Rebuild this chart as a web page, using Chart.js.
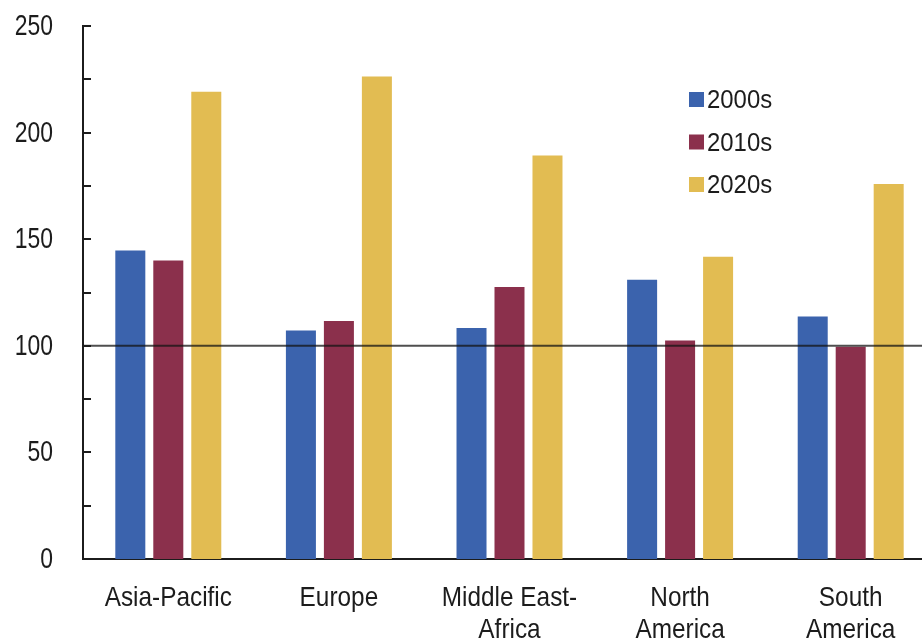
<!DOCTYPE html>
<html>
<head>
<meta charset="utf-8">
<script src="https://cdn.jsdelivr.net/npm/chart.js@4/dist/chart.umd.min.js"></script>
<style>
  html, body { margin: 0; padding: 0; background: #fff; overflow: hidden; }
  #wrap { width: 922px; height: 640px; overflow: hidden; }
</style>
</head>
<body>
<div id="wrap"><canvas id="chart" width="936" height="640"></canvas></div>
<script>
const regions = ['Asia-Pacific', 'Europe', ['Middle East-', 'Africa'], ['North', 'America'], ['South', 'America']];
const decades = ['2000s', '2010s', '2020s'];
const values2000s = [144.7, 107.2, 108.3, 131.0, 113.8];
const values2010s = [140.0, 111.6, 127.6, 102.5, 99.5];
const values2020s = [219.2, 226.3, 189.3, 141.8, 175.9];
const colors = ['#3b63ad', '#8b304c', '#e2bc52'];

const baseline = 100;
const sans = '"Liberation Sans", Arial, sans-serif';
const ink = '#1c1c1c';

// condensed text: squeeze horizontally around the anchor point
function squeezed(ctx, text, x, y, sx, align) {
  ctx.save();
  ctx.translate(x, y);
  ctx.scale(sx, 1);
  ctx.textAlign = align;
  ctx.fillText(text, 0, 0);
  ctx.restore();
}

// axis labels drawn narrow, like the printed original
const narrowLabels = {
  id: 'narrowLabels',
  afterDraw(chart) {
    const { ctx, scales: { x, y } } = chart;
    ctx.save();
    ctx.fillStyle = ink;
    ctx.textBaseline = 'middle';
    ctx.font = '29px ' + sans;
    y.ticks.forEach(t => {
      squeezed(ctx, String(t.value), y.left + 53, y.getPixelForValue(t.value) + 1, 0.79, 'right');
    });
    ctx.textBaseline = 'alphabetic';
    ctx.font = '28px ' + sans;
    chart.data.labels.forEach((lab, i) => {
      const lines = Array.isArray(lab) ? lab : [lab];
      const px = x.getPixelForValue(i);
      lines.forEach((ln, j) => {
        squeezed(ctx, ln, px, x.top + 47 + j * 32, 0.87, 'center');
      });
    });
    ctx.restore();
  }
};

// short inward ticks on the value axis, every 25
const axisTicks = {
  id: 'axisTicks',
  afterDraw(chart) {
    const { ctx, scales: { y } } = chart;
    ctx.save();
    ctx.strokeStyle = ink;
    ctx.lineWidth = 2;
    for (let v = 0; v <= 250; v += 25) {
      const py = Math.round(y.getPixelForValue(v));
      ctx.beginPath();
      ctx.moveTo(y.right - 1, py);
      ctx.lineTo(y.right + 8, py);
      ctx.stroke();
    }
    ctx.restore();
  }
};

// reference line at 100, drawn on top of the bars
const baseLine = {
  id: 'baseLine',
  afterDatasetsDraw(chart) {
    const { ctx, chartArea, scales: { y } } = chart;
    const py = y.getPixelForValue(baseline);
    ctx.save();
    ctx.strokeStyle = 'rgba(20,20,20,0.75)';
    ctx.lineWidth = 2;
    ctx.beginPath();
    ctx.moveTo(chartArea.left, py);
    ctx.lineTo(chartArea.right, py);
    ctx.stroke();
    ctx.restore();
  }
};

// legend inside the plot, upper right
const boxLegend = {
  id: 'boxLegend',
  afterDraw(chart) {
    const { ctx } = chart;
    ctx.save();
    ctx.font = '26px ' + sans;
    ctx.textBaseline = 'middle';
    chart.data.datasets.forEach((ds, i) => {
      const cy = 100 + i * 42.5;
      ctx.fillStyle = ds.backgroundColor;
      ctx.fillRect(689, cy - 8, 15, 15);
      ctx.fillStyle = ink;
      squeezed(ctx, ds.label, 707, cy + 1, 0.92, 'left');
    });
    ctx.restore();
  }
};

new Chart(document.getElementById('chart'), {
  type: 'bar',
  data: {
    labels: regions,
    datasets: [
      { label: decades[0], data: values2000s, backgroundColor: colors[0] },
      { label: decades[1], data: values2010s, backgroundColor: colors[1] },
      { label: decades[2], data: values2020s, backgroundColor: colors[2] },
    ]
  },
  options: {
    responsive: false,
    animation: false,
    datasets: { bar: { categoryPercentage: 0.668, barPercentage: 0.79 } },
    layout: { padding: { top: 26, right: 0, left: 0, bottom: 0 } },
    plugins: {
      legend: { display: false },
      tooltip: { enabled: false }
    },
    scales: {
      x: {
        grid: { display: false, drawTicks: false },
        border: { display: true, color: ink, width: 2 },
        ticks: { display: false },
        afterFit: s => { s.height = 81; }
      },
      y: {
        min: 0,
        max: 250,
        grid: { display: false, drawTicks: false },
        border: { display: true, color: ink, width: 2 },
        ticks: { display: false, stepSize: 50 },
        afterFit: s => { s.width = 83; }
      }
    }
  },
  plugins: [baseLine, axisTicks, narrowLabels, boxLegend]
});
</script>
</body>
</html>
